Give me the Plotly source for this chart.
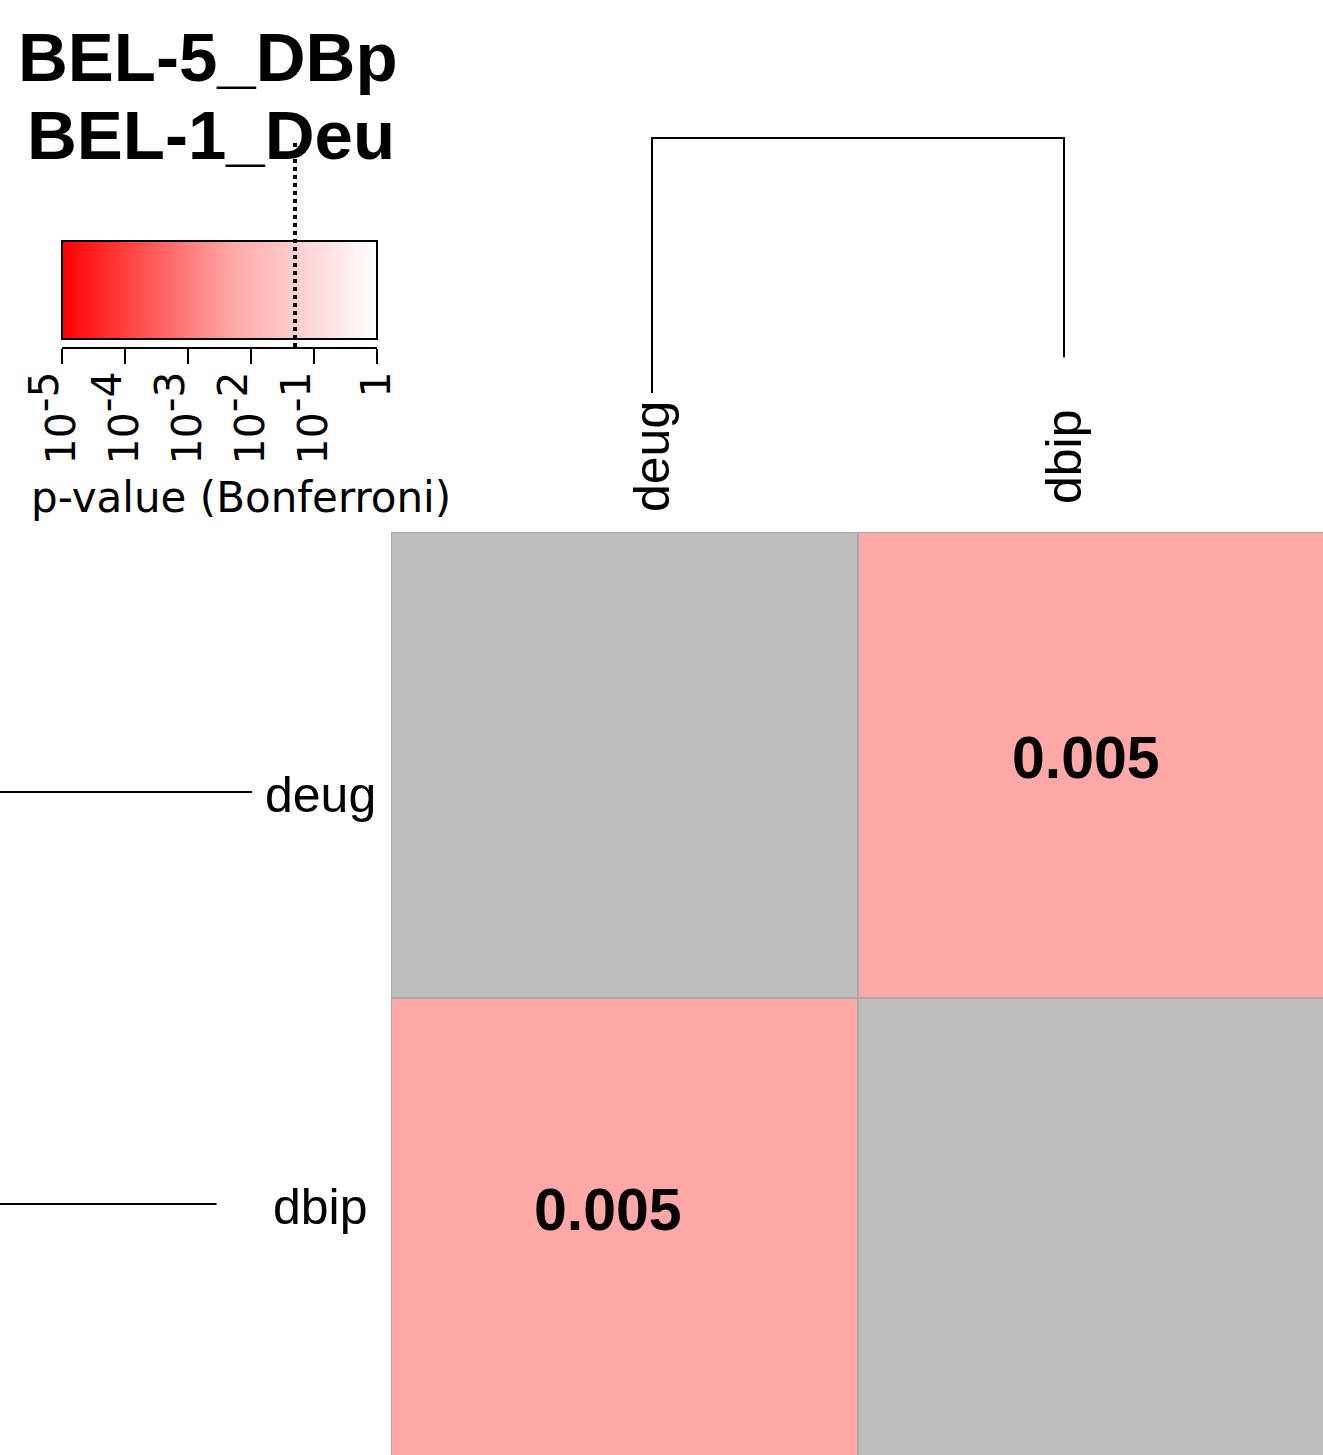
import numpy as np
import plotly.graph_objects as go

W, H = 1323, 1455

# ---------------- data ----------------
title_lines = ["BEL-5_DBp", "BEL-1_Deu"]
categories = ["deug", "dbip"]
pvalues = [[None, 0.005],
           [0.005, None]]
cell_labels = [["", "0.005"],
               ["0.005", ""]]
scale_tick_exponents = [-5, -4, -3, -2, -1, 0]
scale_tick_labels = ["10<sup><span style='font-size:41px'>-5</span></sup>",
                     "10<sup><span style='font-size:41px'>-4</span></sup>",
                     "10<sup><span style='font-size:41px'>-3</span></sup>",
                     "10<sup><span style='font-size:41px'>-2</span></sup>",
                     "10<sup><span style='font-size:41px'>-1</span></sup>",
                     "1"]
scale_title = "p-value (Bonferroni)"
threshold = 0.05
# dendrogram (same tree used for rows and columns)
leaf_positions = [0, 1]
leaf_heights = [0.0, 0.14]
merge_height = 1.0

# ---------------- styles ----------------
na_color = "#bebebe"
grid_color = "#a9a9a9"
colorscale = [[0.0, "rgb(255,0,0)"], [0.54, "rgb(255,168,168)"], [1.0, "rgb(255,255,255)"]]
zmin, zmax = scale_tick_exponents[0], scale_tick_exponents[-1]
# small label offsets (px) inside the cells, as in the reference
cell_text_shift = [[(0, 0), (-6, 7)],
                   [(-17, 21), (0, 0)]]


def px_x(p):
    return p / W


def px_y(p):
    return 1 - p / H


z = [[np.log10(v) if v is not None else None for v in row] for row in pvalues]
na_mask = [[1 if v is None else None for v in row] for row in pvalues]

fig = go.Figure()

# main heatmap: NA cells
fig.add_trace(go.Heatmap(
    x=categories, y=categories, z=na_mask,
    colorscale=[[0, na_color], [1, na_color]], showscale=False,
    xgap=2, ygap=2, hoverinfo="skip", xaxis="x", yaxis="y"))
# main heatmap: p-values
fig.add_trace(go.Heatmap(
    x=categories, y=categories, z=z, text=cell_labels,
    colorscale=colorscale, zmin=zmin, zmax=zmax, showscale=False,
    xgap=2, ygap=2, xaxis="x", yaxis="y"))

# colour key gradient
grad = np.linspace(zmin, zmax, 301)
fig.add_trace(go.Heatmap(
    x=grad, y=[0, 1], z=[grad], colorscale=colorscale, zmin=zmin, zmax=zmax,
    showscale=False, hoverinfo="skip", xaxis="x2", yaxis="y2"))

# top dendrogram
fig.add_trace(go.Scatter(
    x=[leaf_positions[0], leaf_positions[0], leaf_positions[1], leaf_positions[1]],
    y=[leaf_heights[0], merge_height, merge_height, leaf_heights[1]],
    mode="lines", line=dict(color="black", width=2), hoverinfo="skip",
    showlegend=False, xaxis="x3", yaxis="y3"))
# left dendrogram
fig.add_trace(go.Scatter(
    x=[leaf_heights[0], merge_height, merge_height, leaf_heights[1]],
    y=[leaf_positions[0], leaf_positions[0], leaf_positions[1], leaf_positions[1]],
    mode="lines", line=dict(color="black", width=2), hoverinfo="skip",
    showlegend=False, xaxis="x4", yaxis="y4"))

hidden = dict(visible=False, showgrid=False, zeroline=False, automargin=False)

# main heatmap geometry: cell 467 x 466 px, top-left at (391, 532)
cw, ch = 467, 466
x_range = [-0.5, -0.5 + (W - 391) / cw]
y_range = [-0.5 + (H - 532) / ch, -0.5]

# top dendrogram geometry
t_unit_x, t_x0 = 412, 652
t_unit_y, t_y0 = 255, 393
# left dendrogram geometry
l_unit_x, l_x0 = 253, 252
l_unit_y, l_y0 = 412, 792

fig.update_layout(
    width=W, height=H, autosize=False,
    margin=dict(l=0, r=0, t=0, b=0, pad=0, autoexpand=False),
    paper_bgcolor="white", plot_bgcolor="white",
    showlegend=False,
    font=dict(family="Liberation Sans", color="black"),
    xaxis=dict(domain=[px_x(391), 1], range=x_range, **hidden),
    yaxis=dict(domain=[0, px_y(532)], range=y_range, **hidden),
    xaxis2=dict(domain=[px_x(62), px_x(377)], range=[zmin, zmax], anchor="y2",
                automargin=False,
                showgrid=False, zeroline=False, showline=True, linecolor="black", linewidth=2,
                ticks="outside", ticklen=15, tickwidth=2, tickcolor="black",
                ticklabelstandoff=-9,
                tickvals=scale_tick_exponents, ticktext=scale_tick_labels, tickangle=-90,
                tickfont=dict(family="DejaVu Sans", size=41, color="black")),
    yaxis2=dict(domain=[px_y(347), px_y(238)], range=[-8 / 98, 1 + 3 / 98], anchor="x2",
                **hidden),
    xaxis3=dict(domain=[px_x(391), 1],
                range=[(391 - t_x0) / t_unit_x, (W - t_x0) / t_unit_x], anchor="y3", **hidden),
    yaxis3=dict(domain=[px_y(530), px_y(90)],
                range=[(t_y0 - 530) / t_unit_y, (t_y0 - 90) / t_unit_y], anchor="x3", **hidden),
    xaxis4=dict(domain=[0, px_x(391)],
                range=[l_x0 / l_unit_x, (l_x0 - 391) / l_unit_x], anchor="y4", **hidden),
    yaxis4=dict(domain=[0, px_y(532)],
                range=[(H - l_y0) / l_unit_y, (532 - l_y0) / l_unit_y], anchor="x4", **hidden),
)

shapes = [
    # grid colour behind the heatmap bricks
    dict(type="rect", xref="x domain", yref="y domain", x0=0, x1=1, y0=0, y1=1,
         fillcolor=grid_color, line=dict(width=0), layer="below"),
    # colour key border
    dict(type="rect", xref="x2 domain", yref="y2", x0=0, x1=1, y0=0, y1=1,
         line=dict(color="black", width=2), fillcolor="rgba(0,0,0,0)", layer="above"),
    # threshold line
    dict(type="line", xref="x2", yref="paper", x0=np.log10(threshold), x1=np.log10(threshold),
         y0=px_y(347), y1=px_y(140), line=dict(color="black", width=4, dash="dot"), layer="above"),
]
fig.update_layout(shapes=shapes)

annotations = [
    dict(text=f"<b>{title_lines[0]}</b>", xref="paper", yref="paper", x=px_x(208), y=px_y(58),
         showarrow=False, xanchor="center", yanchor="middle",
         font=dict(family="Liberation Sans", size=69, color="black")),
    dict(text=f"<b>{title_lines[1]}</b>", xref="paper", yref="paper", x=px_x(211), y=px_y(135),
         showarrow=False, xanchor="center", yanchor="middle",
         font=dict(family="Liberation Sans", size=69, color="black")),
    dict(text=scale_title, xref="paper", yref="paper", x=px_x(241), y=px_y(497),
         showarrow=False, xanchor="center", yanchor="middle",
         font=dict(family="DejaVu Sans", size=42, color="black")),
]
for i, lab in enumerate(categories):
    annotations.append(dict(text=lab, xref="x3", yref="paper", x=leaf_positions[i], y=px_y(457),
                            showarrow=False, textangle=-90, xanchor="center", yanchor="middle",
                            font=dict(family="Liberation Sans", size=50, color="black")))
    annotations.append(dict(text=lab, xref="paper", yref="y4", x=px_x(320), y=leaf_positions[i],
                            yshift=-3, showarrow=False, xanchor="center", yanchor="middle",
                            font=dict(family="Liberation Sans", size=50, color="black")))
# cell value labels, placed on the heatmap cells
for i, rlab in enumerate(categories):
    for j, clab in enumerate(categories):
        if cell_labels[i][j]:
            dx, dy = cell_text_shift[i][j]
            annotations.append(dict(text=f"<b>{cell_labels[i][j]}</b>", xref="x", yref="y",
                                    x=clab, y=rlab, xshift=dx, yshift=dy, showarrow=False,
                                    xanchor="center", yanchor="middle",
                                    font=dict(family="Liberation Sans", size=59, color="black")))
fig.update_layout(annotations=annotations)

fig.write_html("out.html", config={"displayModeBar": False},
               post_script="document.body.style.margin='0px';")
